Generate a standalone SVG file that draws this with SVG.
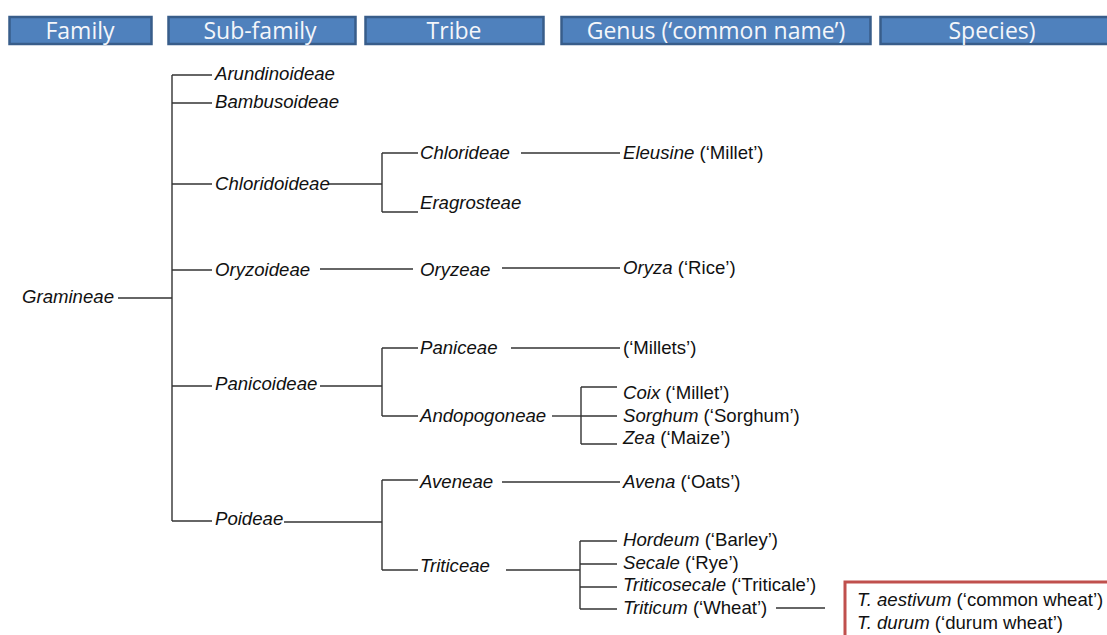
<svg xmlns="http://www.w3.org/2000/svg" width="1107" height="635" viewBox="0 0 1107 635">
<style>
.hb{fill:#4F81BD;stroke:#385D8A;stroke-width:2.5}
.ht{fill:#F4F6FA;font-family:"Open Sans","Noto Sans",sans-serif;font-size:23px;text-anchor:middle}
.t{fill:#111;font-family:"Liberation Sans",Arial,sans-serif;font-size:18.6px}
.i{font-style:italic}
.c line{stroke:#333;stroke-width:1.4}
</style>
<rect width="1107" height="635" fill="#fff"/>
<g id="headers">
<g id="h-family"><rect class="hb" x="9.5" y="17" width="142" height="27"/><text class="ht" x="80" y="38.5">Family</text></g>
<g id="h-subfamily"><rect class="hb" x="168.5" y="17" width="187" height="27"/><text class="ht" x="260" y="38.5">Sub-family</text></g>
<g id="h-tribe"><rect class="hb" x="365.5" y="17" width="178" height="27"/><text class="ht" x="454" y="38.5">Tribe</text></g>
<g id="h-genus"><rect class="hb" x="561.5" y="17" width="309" height="27"/><text class="ht" x="716" y="38.5">Genus (‘common name’)</text></g>
<g id="h-species"><rect class="hb" x="880.5" y="17" width="230" height="27"/><text class="ht" x="992" y="38.5">Species)</text></g>
</g>
<g id="connectors" class="c">
<line x1="118" y1="298" x2="172" y2="298"/>
<line x1="172" y1="75" x2="172" y2="521"/>
<line x1="172" y1="75" x2="212" y2="75"/>
<line x1="172" y1="103" x2="212" y2="103"/>
<line x1="172" y1="184" x2="212" y2="184"/>
<line x1="172" y1="270" x2="212" y2="270"/>
<line x1="172" y1="386" x2="212" y2="386"/>
<line x1="172" y1="521" x2="212" y2="521"/>
<line x1="328" y1="184" x2="382" y2="184"/>
<line x1="382" y1="153" x2="382" y2="212"/>
<line x1="382" y1="153" x2="418" y2="153"/>
<line x1="382" y1="212" x2="418" y2="212"/>
<line x1="521" y1="153" x2="620" y2="153"/>
<line x1="320" y1="269" x2="413" y2="269"/>
<line x1="502" y1="268" x2="620" y2="268"/>
<line x1="320" y1="386" x2="382" y2="386"/>
<line x1="382" y1="348" x2="382" y2="416"/>
<line x1="382" y1="348" x2="418" y2="348"/>
<line x1="382" y1="416" x2="418" y2="416"/>
<line x1="511" y1="348" x2="620" y2="348"/>
<line x1="552" y1="416" x2="581" y2="416"/>
<line x1="581" y1="387" x2="581" y2="444"/>
<line x1="581" y1="387" x2="617" y2="387"/>
<line x1="581" y1="416" x2="617" y2="416"/>
<line x1="581" y1="444" x2="617" y2="444"/>
<line x1="284" y1="522" x2="382" y2="522"/>
<line x1="382" y1="480" x2="382" y2="570"/>
<line x1="382" y1="480" x2="418" y2="480"/>
<line x1="382" y1="570" x2="418" y2="570"/>
<line x1="502" y1="482" x2="620" y2="482"/>
<line x1="506" y1="570" x2="580" y2="570"/>
<line x1="580" y1="541" x2="580" y2="609"/>
<line x1="580" y1="541" x2="617" y2="541"/>
<line x1="580" y1="564" x2="617" y2="564"/>
<line x1="580" y1="587" x2="617" y2="587"/>
<line x1="580" y1="609" x2="617" y2="609"/>
<line x1="776" y1="608" x2="825" y2="608"/>
</g>
<g id="n-gramineae"><text class="t i" x="22" y="303">Gramineae</text></g>
<g id="n-arundinoideae"><text class="t i" x="215" y="80">Arundinoideae</text></g>
<g id="n-bambusoideae"><text class="t i" x="215" y="108">Bambusoideae</text></g>
<g id="n-chloridoideae"><text class="t i" x="215" y="190">Chloridoideae</text></g>
<g id="n-oryzoideae"><text class="t i" x="215" y="276">Oryzoideae</text></g>
<g id="n-panicoideae"><text class="t i" x="215" y="390">Panicoideae</text></g>
<g id="n-poideae"><text class="t i" x="215" y="525">Poideae</text></g>
<g id="n-chlorideae"><text class="t i" x="420" y="159">Chlorideae</text></g>
<g id="n-eragrosteae"><text class="t i" x="420" y="209">Eragrosteae</text></g>
<g id="n-oryzeae"><text class="t i" x="420" y="276">Oryzeae</text></g>
<g id="n-paniceae"><text class="t i" x="420" y="354">Paniceae</text></g>
<g id="n-andopogoneae"><text class="t i" x="420" y="422">Andopogoneae</text></g>
<g id="n-aveneae"><text class="t i" x="420" y="488">Aveneae</text></g>
<g id="n-triticeae"><text class="t i" x="420" y="572">Triticeae</text></g>
<g id="n-eleusine"><text class="t" x="623" y="159"><tspan class="i">Eleusine</tspan> (‘Millet’)</text></g>
<g id="n-oryza"><text class="t" x="623" y="274"><tspan class="i">Oryza</tspan> (‘Rice’)</text></g>
<g id="n-millets"><text class="t" x="623" y="354">(‘Millets’)</text></g>
<g id="n-coix"><text class="t" x="623" y="399"><tspan class="i">Coix</tspan> (‘Millet’)</text></g>
<g id="n-sorghum"><text class="t" x="623" y="422"><tspan class="i">Sorghum</tspan> (‘Sorghum’)</text></g>
<g id="n-zea"><text class="t" x="623" y="444"><tspan class="i">Zea</tspan> (‘Maize’)</text></g>
<g id="n-avena"><text class="t" x="623" y="488"><tspan class="i">Avena</tspan> (‘Oats’)</text></g>
<g id="n-hordeum"><text class="t" x="623" y="546"><tspan class="i">Hordeum</tspan> (‘Barley’)</text></g>
<g id="n-secale"><text class="t" x="623" y="569"><tspan class="i">Secale</tspan> (‘Rye’)</text></g>
<g id="n-triticosecale"><text class="t" x="623" y="591"><tspan class="i">Triticosecale</tspan> (‘Triticale’)</text></g>
<g id="n-triticum"><text class="t" x="623" y="614"><tspan class="i">Triticum</tspan> (‘Wheat’)</text></g>
<g id="n-species">
<rect x="845" y="582" width="270" height="62" fill="#fff" stroke="#C0504D" stroke-width="3"/>
<text class="t" x="857" y="606"><tspan class="i">T. aestivum</tspan> (‘common wheat’)</text>
<text class="t" x="857" y="629"><tspan class="i">T. durum</tspan> (‘durum wheat’)</text>
</g>
</svg>
